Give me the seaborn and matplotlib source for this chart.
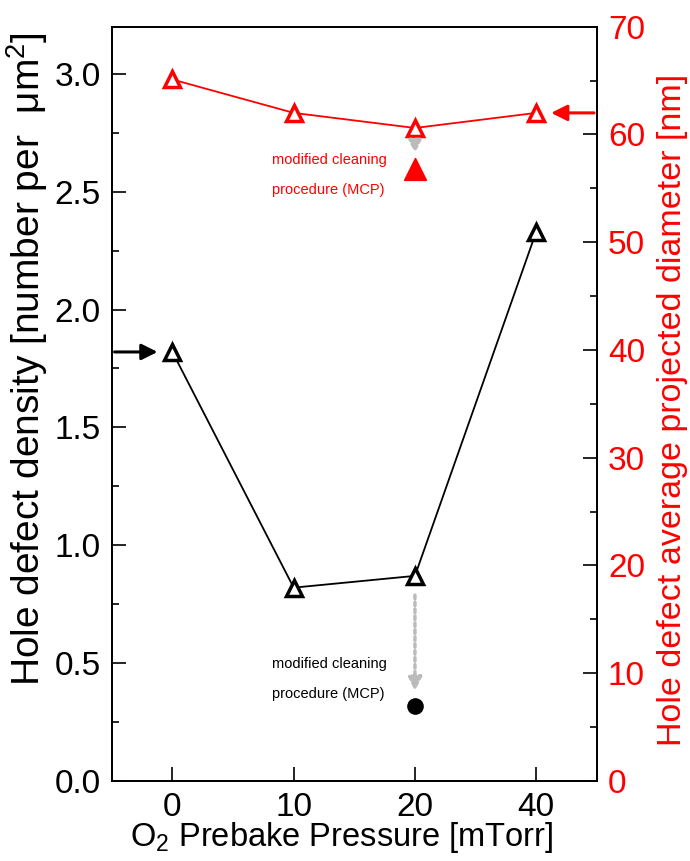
import pandas as pd
import numpy as np
import matplotlib
matplotlib.use("Agg")
import matplotlib.pyplot as plt
import seaborn as sns
from matplotlib.ticker import MultipleLocator

# data
pressure = ["0", "10", "20", "40"]
density = [1.82, 0.82, 0.87, 2.33]
diameter = [65.1, 62.0, 60.6, 62.0]
mcp_pressure = ["20"]
mcp_density = [0.32]
mcp_diameter = [56.8]

sns.set_style("white")
plt.rcParams['font.family'] = ['Liberation Sans', 'DejaVu Sans']
plt.rcParams['mathtext.fontset'] = 'custom'
plt.rcParams['mathtext.rm'] = 'Liberation Sans'
plt.rcParams['mathtext.it'] = 'Liberation Sans:italic'
for k in ('text.color', 'axes.labelcolor', 'xtick.color', 'ytick.color'):
    plt.rcParams[k] = 'black'

FS = 24
df = pd.DataFrame({"pressure": pressure, "density": density, "diameter": diameter})

fig = plt.figure(figsize=(6.9, 8.61), dpi=100)
ax = fig.add_subplot()
fig.subplots_adjust(left=0.162, right=0.865, top=0.969, bottom=0.093)
ax2 = ax.twinx()

sns.lineplot(data=df, x="pressure", y="density", ax=ax, color="black", lw=1.3,
             marker="^", markersize=11, markerfacecolor="white",
             markeredgecolor="black", markeredgewidth=2.5, sort=False)
sns.scatterplot(x=mcp_pressure, y=mcp_density, ax=ax, color="black", s=170, zorder=5)

sns.lineplot(data=df, x="pressure", y="diameter", ax=ax2, color="red", lw=1.3,
             marker="^", markersize=11, markerfacecolor="white",
             markeredgecolor="red", markeredgewidth=2.5, sort=False)
sns.scatterplot(x=mcp_pressure, y=mcp_diameter, ax=ax2, color="red", marker="^",
                s=240, edgecolor="red", zorder=5)

ax.set_xlim(-0.5, 3.5)
ax.set_ylim(0, 3.2)
ax2.set_ylim(0, 70)

ax.yaxis.set_major_locator(MultipleLocator(0.5))
ax.yaxis.set_minor_locator(MultipleLocator(0.25))
ax2.yaxis.set_major_locator(MultipleLocator(10))
ax2.yaxis.set_minor_locator(MultipleLocator(5))
ax.yaxis.set_major_formatter(matplotlib.ticker.FormatStrFormatter('%.1f'))

for a in (ax, ax2):
    for s in a.spines.values():
        s.set_color("black")
        s.set_linewidth(1.3)

ax.tick_params(axis="both", which="major", direction="in", length=10, width=1.2,
               labelsize=FS, pad=8, bottom=True, left=True, top=False, right=False)
ax.tick_params(axis="y", which="minor", direction="in", length=5, width=1.2, left=True)
ax2.tick_params(axis="y", which="major", direction="in", length=10, width=1.2,
                labelsize=FS, labelcolor="red", pad=8, right=True)
ax2.tick_params(axis="y", which="minor", direction="in", length=5, width=1.2, right=True)

ax.set_xlabel(r"O$_2$ Prebake Pressure [mTorr]", fontsize=23.5, labelpad=0)
ax.set_ylabel(r"Hole defect density [number per  μm$^2$]", fontsize=28)
ax2.set_ylabel("Hole defect average projected diameter [nm]", fontsize=24.5,
               color="red")
ax.xaxis.set_label_coords(0.474, -0.052)
ax.yaxis.set_label_coords(-0.128, 0.56)
ax2.yaxis.set_label_coords(1.124, 0.492)

# arrows pointing to the axis each series belongs to
ax.annotate("", xy=(-0.1, density[0]), xytext=(-0.5, density[0]),
            arrowprops=dict(arrowstyle="-|>", color="black", lw=2.2,
                            mutation_scale=24), annotation_clip=False)
ax2.annotate("", xy=(3.1, diameter[3]), xytext=(3.5, diameter[3]),
             arrowprops=dict(arrowstyle="-|>", color="red", lw=2.2,
                             mutation_scale=24), annotation_clip=False)

# dotted grey arrows to the MCP points
ax.annotate("", xy=(2, mcp_density[0] + 0.05), xytext=(2, density[2] - 0.07),
            arrowprops=dict(arrowstyle="-|>", color="#bbbbbb", lw=2.5,
                            linestyle=(0, (1, 1)), mutation_scale=20))
ax2.annotate("", xy=(2, mcp_diameter[0] + 1.2), xytext=(2, diameter[2] - 1.2),
             arrowprops=dict(arrowstyle="-|>", color="#bbbbbb", lw=2.5,
                             linestyle=(0, (1, 1)), mutation_scale=18))

ax.text(0.82, 0.495, "modified cleaning", fontsize=10.5, color="black", va="center")
ax.text(0.82, 0.37, "procedure (MCP)", fontsize=10.5, color="black", va="center")
ax2.text(0.82, 57.65, "modified cleaning", fontsize=10.5, color="red", va="center")
ax2.text(0.82, 54.87, "procedure (MCP)", fontsize=10.5, color="red", va="center")

fig.savefig("out.png", dpi=100)
